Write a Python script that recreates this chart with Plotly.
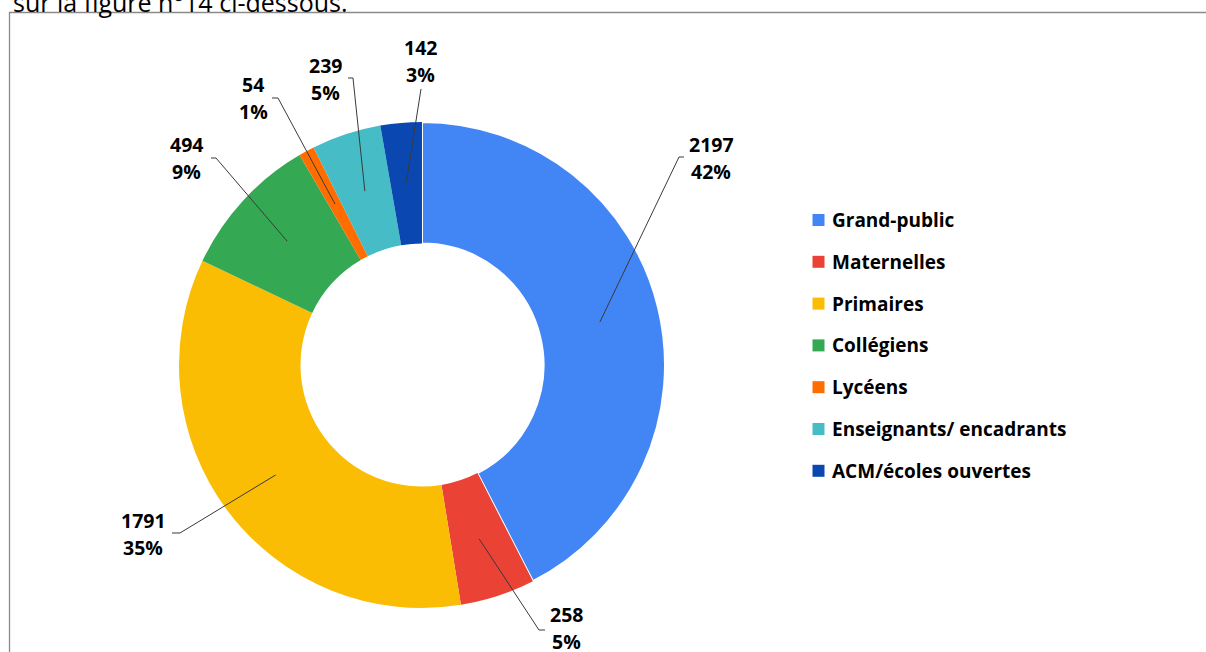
import math
import plotly.graph_objects as go

# ---------------- data ----------------
categories = ["Grand-public", "Maternelles", "Primaires", "Collégiens",
              "Lycéens", "Enseignants/ encadrants", "ACM/écoles ouvertes"]
values = [2197, 258, 1791, 494, 54, 239, 142]
pct_labels = ["42%", "5%", "35%", "9%", "1%", "5%", "3%"]
header_text = "sur la figure n°14 ci-dessous."

# ---------------- style ----------------
colors = ["#4285F4", "#EA4335", "#FBBC04", "#34A853", "#FF6D01", "#46BDC6", "#0B47B1"]
W, H = 1206, 652
CX, CY, R = 422, 365, 243          # pie centre / radius (px)
HOLE = 0.5
LEADER_R = 183                      # leader lines start inside the ring (px from centre)
# label placement (px): text centre, leader bend point, short horizontal tail end
label_center = [(711, 158), (566, 628), (143, 534), (187, 158), (253, 98), (325, 79), (420, 61)]
label_bend = [(679, 157), (539, 630), (180, 533), (216, 158), (278, 98), (353, 78), (421, 89)]
label_tail = [(684, 157), (545, 630), (172, 533), (211, 158), (272, 98), (348, 78), None]
LINE_GAP = 27
FONT = "Open Sans"
LABEL_SIZE = 19.5
LEG_X, LEG_Y0, LEG_DY, LEG_SQ = 812.5, 220, 41.8, 12


def px(x, y):
    return x / W, 1 - y / H


fig = go.Figure()
fig.add_trace(go.Pie(
    labels=categories, values=values, sort=False, direction="clockwise", rotation=0,
    hole=HOLE, textinfo="none", showlegend=False,
    marker=dict(colors=colors, line=dict(color="white", width=[2, 0, 0, 0, 0, 0, 0])),
    domain=dict(x=[(CX - R) / W, (CX + R) / W], y=[(H - CY - R) / H, (H - CY + R) / H]),
    hovertemplate="%{label}: %{value} (%{percent})<extra></extra>",
))

shapes, annotations = [], []
total = sum(values)
cum = 0
for i, v in enumerate(values):
    theta = 2 * math.pi * (cum + v / 2) / total
    cum += v
    sx, sy = CX + LEADER_R * math.sin(theta), CY - LEADER_R * math.cos(theta)
    pts = [(sx, sy), label_bend[i]]
    if label_tail[i] is not None:
        pts.append(label_tail[i])
    path = "M " + " L ".join(f"{px(a, b)[0]:.5f},{px(a, b)[1]:.5f}" for a, b in pts)
    shapes.append(dict(type="path", xref="paper", yref="paper", path=path,
                       line=dict(color="#3a3a3a", width=1), layer="above"))
    tx, ty = label_center[i]
    for txt, dy in ((str(v), -LINE_GAP / 2), (pct_labels[i], LINE_GAP / 2)):
        ax, ay = px(tx, ty + dy)
        annotations.append(dict(x=ax, y=ay, xref="paper", yref="paper", text=f"<b>{txt}</b>",
                                showarrow=False, xanchor="center", yanchor="middle",
                                font=dict(family=FONT, size=LABEL_SIZE, color="#000000")))

# legend
for i, (cat, col) in enumerate(zip(categories, colors)):
    yc = LEG_Y0 + i * LEG_DY
    x0, y0 = px(LEG_X, yc - LEG_SQ / 2)
    x1, y1 = px(LEG_X + LEG_SQ, yc + LEG_SQ / 2)
    shapes.append(dict(type="rect", xref="paper", yref="paper", x0=x0, x1=x1, y0=y1, y1=y0,
                       fillcolor=col, line=dict(width=0), layer="above"))
    ax, ay = px(LEG_X + LEG_SQ + 6, yc)
    annotations.append(dict(x=ax, y=ay, xref="paper", yref="paper", text=f"<b>{cat}</b>",
                            showarrow=False, xanchor="left", yanchor="middle",
                            font=dict(family=FONT, size=19, color="#000000")))

# frame of the embedded chart
bx, by = 9.5, 12.5
path = "M " + " L ".join(f"{px(a, b)[0]:.5f},{px(a, b)[1]:.5f}" for a, b in [(bx, H + 2), (bx, by), (W + 2, by)])
shapes.append(dict(type="path", xref="paper", yref="paper", path=path,
                   line=dict(color="#8a8a8a", width=1.3), layer="above"))

# cut-off document text above the chart
ax, ay = px(11, 21)
annotations.append(dict(x=ax, y=ay, xref="paper", yref="paper", text=header_text,
                        showarrow=False, xanchor="left", yanchor="bottom",
                        font=dict(family=FONT, size=25, color="#000000")))

fig.update_layout(
    width=W, height=H, autosize=False,
    margin=dict(l=0, r=0, t=0, b=0),
    paper_bgcolor="white", plot_bgcolor="white",
    shapes=shapes, annotations=annotations,
    showlegend=False,
)
fig.write_html("out.html", config={"displayModeBar": False},
               post_script="document.body.style.margin='0';document.body.style.overflow='hidden';")
